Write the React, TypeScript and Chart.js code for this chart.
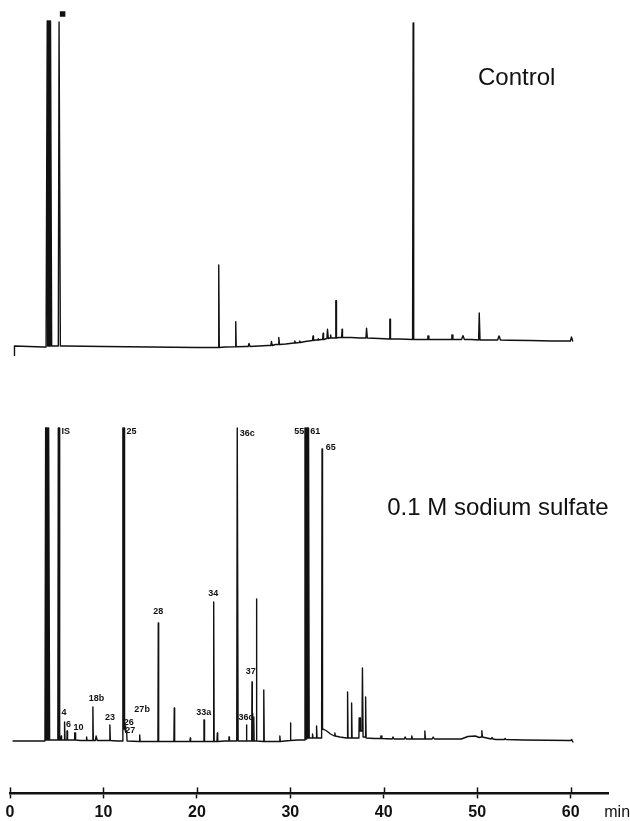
import React, { useEffect, useRef } from 'react';
import { Chart, registerables } from 'chart.js';

Chart.register(...registerables);

// [time (min), height, base on left, base width (min), top width (min), base on right?]
type Peak = [number, number, number, number, number, number?];
type Knot = [number, number];
type PeakLabel = [string, number, number, CanvasTextAlign];

const timeTicks = [0, 10, 20, 30, 40, 50, 60];
const timeUnit = 'min';
const controlTitle = 'Control';
const sulfateTitle = '0.1 M sodium sulfate';

// ---- Control trace ----
const controlStart: Knot = [0.48, -10];
const controlBaseline: Knot[] = [
  [0.48, 0], [3.6, -1], [6, 0], [10, -0.5], [15, -1], [20, -1.5], [23, -1],
  [25.2, -0.5], [27.6, 0.5], [28.4, 1.5], [29.5, 2], [31.6, 4.5], [32.7, 6],
  [33.3, 6.5], [34.6, 8], [35.2, 8.5], [36.5, 8.5], [37.5, 8], [39.5, 7.5],
  [41.7, 7], [46, 6.5], [49.4, 6.5], [51.4, 6], [53.5, 5.8], [55.7, 5.5],
  [58, 5], [60.28, 5],
];
const controlPeaks: Peak[] = [
  [4.16, 325, -1, 0.6, 0.35, 0],
  [5.28, 324, 0, 0.22, 0.06],
  [22.34, 81, -1.5, 0.12, 0.03],
  [24.16, 24.3, -0.8, 0.1, 0.02],
  [25.59, 2.5, -0.5, 0.2, 0.02],
  [27.99, 4.5, 0.5, 0.15, 0.02],
  [28.77, 8.5, 1.5, 0.15, 0.02],
  [30.48, 5, 3, 0.15, 0.02],
  [31.02, 5, 3.5, 0.15, 0.02],
  [32.44, 10, 5.5, 0.15, 0.02],
  [32.98, 7, 6, 0.12, 0.02],
  [33.52, 12.7, 6.5, 0.12, 0.02],
  [33.99, 16.7, 7.5, 0.15, 0.02],
  [34.31, 11, 8, 0.12, 0.02],
  [34.88, 45.3, 8, 0.12, 0.02],
  [35.55, 16.7, 8.5, 0.12, 0.02],
  [38.17, 17.7, 8, 0.15, 0.02],
  [40.66, 26.7, 7, 0.12, 0.02],
  [43.16, 323, 6.5, 0.15, 0.03],
  [44.73, 10, 6.5, 0.2, 0.02],
  [47.3, 11, 6.5, 0.2, 0.02],
  [48.48, 10.3, 6.5, 0.3, 0.02],
  [50.23, 33, 6, 0.15, 0.02],
  [52.34, 10, 6, 0.3, 0.02],
  [60.1, 9, 5, 0.25, 0.02],
];
const controlMarker: Knot = [5.63, 332];

// ---- 0.1 M sodium sulfate trace ----
const sulfateBaseline: Knot[] = [
  [0.27, 0], [3.5, 0], [4.7, 1], [7.5, 0.5], [11.5, 0], [14, -0.5], [20, -0.5],
  [23, 0], [28, -0.5], [30.8, 1], [33.6, 11.5], [33.9, 10], [34.3, 7], [35.3, 4],
  [36, 3], [39, 2.5], [42, 2], [45, 2], [48.3, 2], [49, 4.5], [49.8, 5],
  [50.2, 3.5], [52, 1.5], [55, 1], [59.9, 0.5], [60.28, -1.5],
];
const sulfatePeaks: Peak[] = [
  [3.99, 313, 0, 0.5, 0.35, 1],
  [5.23, 313, 1, 0.22, 0.12],
  [5.49, 5, 1, 0.1, 0.02],
  [5.84, 19, 1, 0.1, 0.02],
  [6.11, 10, 1, 0.1, 0.02],
  [6.96, 8, 1, 0.2, 0.1],
  [8.2, 4, 0.5, 0.1, 0.02],
  [8.87, 34, 0.5, 0.1, 0.02],
  [9.24, 5, 0.5, 0.2, 0.05],
  [10.69, 16, 0.5, 0.1, 0.02],
  [12.16, 313, 0, 0.24, 0.16, 12],
  [12.36, 15, 12, 0.1, 0.03, 9],
  [12.48, 10, 9, 0.1, 0.03, 0],
  [13.88, 6, -0.5, 0.1, 0.02],
  [15.88, 118, -0.5, 0.1, 0.02],
  [17.59, 33, -0.5, 0.1, 0.02],
  [19.3, 3, -0.5, 0.1, 0.02],
  [20.77, 21, -0.5, 0.1, 0.02],
  [21.8, 139, -0.5, 0.1, 0.02],
  [22.2, 8, -0.5, 0.1, 0.02],
  [23.44, 4, 0, 0.1, 0.02],
  [24.34, 313, 0, 0.15, 0.04],
  [25.31, 16, 0, 0.1, 0.02],
  [25.91, 59, 0, 0.08, 0.02],
  [26.09, 24, 0, 0.08, 0.02],
  [26.38, 142, 0, 0.1, 0.02],
  [27.16, 51, -0.5, 0.1, 0.02],
  [28.88, 5, -0.5, 0.1, 0.02],
  [30.02, 18, 0.5, 0.1, 0.02],
  [31.65, 313, 1, 0.24, 0.16, 2],
  [31.9, 313, 2, 0.24, 0.16, 3],
  [32.38, 7, 3, 0.1, 0.02],
  [32.81, 15, 3, 0.1, 0.02],
  [33.41, 292, 3, 0.12, 0.03, 12],
  [34.77, 8, 5, 0.1, 0.02],
  [36.13, 49, 3, 0.1, 0.02],
  [36.56, 38, 3, 0.1, 0.02],
  [37.42, 23, 3, 0.16, 0.1, 10],
  [37.73, 73, 10, 0.12, 0.02, 4],
  [38.06, 44, 4, 0.1, 0.02, 3],
  [39.7, 5, 2.5, 0.2, 0.02],
  [41.0, 4, 2, 0.2, 0.02],
  [42.3, 4, 2, 0.2, 0.02],
  [43.0, 5, 2, 0.15, 0.02],
  [44.4, 10, 2, 0.12, 0.02],
  [45.3, 4, 2, 0.25, 0.02],
  [50.5, 10.3, 4, 0.12, 0.02],
  [51.6, 3.5, 2, 0.2, 0.02],
  [53.0, 2.5, 1.5, 0.2, 0.02],
  [60.1, 1.5, 0.5, 0.12, 0.02],
];
// [text, time, height, align]
const sulfateLabels: PeakLabel[] = [
  ['IS', 5.52, 309, 'left'],
  ['25', 12.48, 309, 'left'],
  ['36c', 24.59, 307, 'left'],
  ['55', 31.5, 309, 'right'],
  ['61', 32.14, 309, 'left'],
  ['65', 33.8, 293, 'left'],
  ['28', 15.86, 129, 'center'],
  ['34', 21.75, 147, 'center'],
  ['37', 25.77, 69, 'center'],
  ['18b', 9.27, 42, 'center'],
  ['23', 10.71, 23, 'center'],
  ['4', 5.79, 28, 'center'],
  ['6', 6.27, 16, 'center'],
  ['10', 7.34, 13, 'center'],
  ['26', 12.7, 18, 'center'],
  ['27', 12.86, 10, 'center'],
  ['27b', 14.14, 31, 'center'],
  ['33a', 20.73, 28, 'center'],
  ['36d', 25.29, 23, 'center'],
];
const controlTitlePos: Knot = [50.09, 261];
const sulfateTitlePos: Knot = [40.37, 226];

const INK = '#111';
const FONT = '"Liberation Sans", Arial, Helvetica, sans-serif';

// A peak is drawn as a spike; a broad (off-scale) peak as a dense zig-zag so it reads as a solid bar.
function buildTrace(baseline: Knot[], peaks: Peak[]) {
  const pts: { x: number; y: number }[] = [];
  peaks.forEach(([t, h, bl, w, wt, br]) => {
    const r = br === undefined ? bl : br;
    pts.push({ x: t - w / 2, y: bl });
    if (wt >= 0.08) {
      const n = Math.max(2, Math.round(wt / 0.06));
      for (let i = 0; i <= 2 * n; i++) {
        pts.push({ x: t - wt / 2 + (i * wt) / (2 * n), y: i % 2 === 0 ? h : Math.max(bl, r) });
      }
    } else {
      pts.push({ x: t - wt / 2, y: h }, { x: t + wt / 2, y: h });
    }
    pts.push({ x: t + w / 2, y: r });
  });
  baseline.forEach(([t, v]) => {
    if (!peaks.some(([pt, , , w]) => Math.abs(t - pt) <= w / 2)) pts.push({ x: t, y: v });
  });
  pts.sort((a, b) => a.x - b.x);
  return pts;
}

const annotationPlugin = {
  id: 'chromAnnotations',
  afterDatasetsDraw(chart: any) {
    const ctx = chart.ctx as CanvasRenderingContext2D;
    const xs = chart.scales.x;
    const yTop = chart.scales.yTop;
    const yBot = chart.scales.yBot;
    ctx.save();
    ctx.fillStyle = INK;
    ctx.font = `24px ${FONT}`;
    ctx.textAlign = 'left';
    ctx.textBaseline = 'alphabetic';
    ctx.fillText(controlTitle, xs.getPixelForValue(controlTitlePos[0]), yTop.getPixelForValue(controlTitlePos[1]));
    ctx.fillText(sulfateTitle, xs.getPixelForValue(sulfateTitlePos[0]), yBot.getPixelForValue(sulfateTitlePos[1]));
    ctx.font = `bold 9px ${FONT}`;
    ctx.textBaseline = 'middle';
    sulfateLabels.forEach(([txt, t, v, align]) => {
      ctx.textAlign = align;
      ctx.fillText(txt, xs.getPixelForValue(t), yBot.getPixelForValue(v));
    });
    ctx.restore();
  },
  afterDraw(chart: any) {
    const ctx = chart.ctx as CanvasRenderingContext2D;
    const xs = chart.scales.x;
    const axisY = xs.top;
    ctx.save();
    ctx.strokeStyle = INK;
    ctx.lineWidth = 1.5;
    timeTicks.forEach((v) => {
      const px = Math.round(xs.getPixelForValue(v)) + 0.5;
      ctx.beginPath();
      ctx.moveTo(px, axisY - 6);
      ctx.lineTo(px, axisY);
      ctx.stroke();
    });
    ctx.fillStyle = INK;
    ctx.font = `16px ${FONT}`;
    ctx.textAlign = 'left';
    ctx.textBaseline = 'middle';
    ctx.fillText(timeUnit, xs.getPixelForValue(63.6), axisY + 19);
    ctx.restore();
  },
};

export default function App() {
  const ref = useRef<HTMLCanvasElement | null>(null);

  useEffect(() => {
    if (!ref.current) return;
    const controlData = [{ x: controlStart[0], y: controlStart[1] }, ...buildTrace(controlBaseline, controlPeaks)];
    const sulfateData = buildTrace(sulfateBaseline, sulfatePeaks);
    const lineStyle = {
      borderColor: INK,
      borderWidth: 1.4,
      borderJoinStyle: 'round',
      pointRadius: 0,
      tension: 0,
      fill: false,
    };
    const chart = new Chart(ref.current, {
      type: 'line',
      data: {
        datasets: [
          { label: controlTitle, data: controlData, yAxisID: 'yTop', ...lineStyle },
          { label: sulfateTitle, data: sulfateData, yAxisID: 'yBot', ...lineStyle },
          {
            type: 'scatter',
            label: 'marker',
            data: [{ x: controlMarker[0], y: controlMarker[1] }],
            yAxisID: 'yTop',
            pointStyle: 'rect',
            pointRadius: 3.9,
            backgroundColor: INK,
            borderWidth: 0,
          },
        ],
      },
      options: {
        responsive: false,
        animation: false,
        events: [],
        layout: { padding: { top: 10, left: 10, right: 22, bottom: -5 } },
        plugins: { legend: { display: false }, tooltip: { enabled: false } },
        scales: {
          x: {
            type: 'linear',
            position: 'bottom',
            min: 0,
            max: 64,
            afterBuildTicks: (scale: any) => {
              scale.ticks = timeTicks.map((v) => ({ value: v }));
            },
            ticks: {
              color: INK,
              padding: 5,
              maxRotation: 0,
              autoSkip: false,
              font: { family: FONT, size: 16, weight: 'bold', lineHeight: 1.1 },
              callback: (v: any) => String(v),
            },
            grid: {
              display: true,
              drawOnChartArea: false,
              drawTicks: true,
              tickLength: 5,
              tickWidth: 1.5,
              tickColor: INK,
            },
            border: { display: true, color: INK, width: 2.5 },
          },
          yTop: { type: 'linear', display: false, min: -447.4, max: 336 },
          yBot: { type: 'linear', display: false, min: -52.4, max: 731 },
        },
      },
      plugins: [annotationPlugin],
    } as any);
    return () => chart.destroy();
  }, []);

  return (
    <div style={{ position: 'absolute', left: 0, top: 0, width: 630, height: 821, background: '#fff' }}>
      <canvas ref={ref} width={630} height={821} style={{ display: 'block' }} />
    </div>
  );
}
